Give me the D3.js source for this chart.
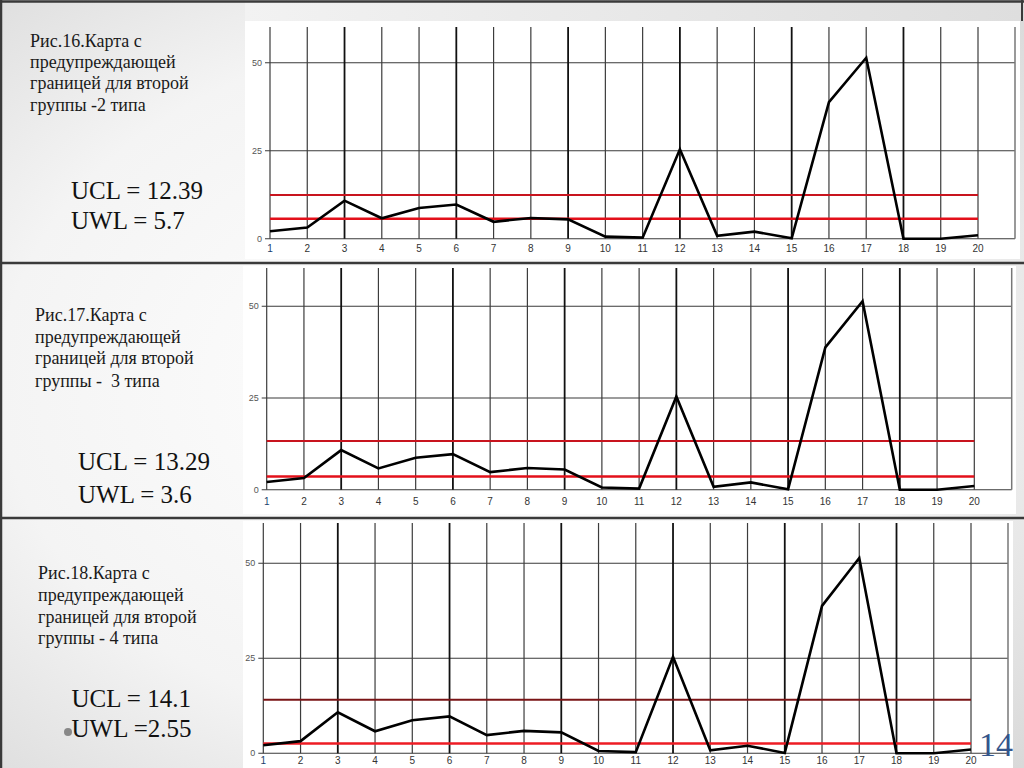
<!DOCTYPE html>
<html>
<head>
<meta charset="utf-8">
<script src="https://cdn.jsdelivr.net/npm/d3@7"></script>
<style>
  html, body { margin: 0; padding: 0; background: #fff; }
  svg { display: block; }
</style>
</head>
<body>
<svg id="slide" width="1024" height="768"></svg>
<script>
// ---- Data ----
const sampleNumbers = [1, 2, 3, 4, 5, 6, 7, 8, 9, 10, 11, 12, 13, 14, 15, 16, 17, 18, 19, 20];
const defectValues = [2.1, 3.2, 10.8, 5.8, 8.7, 9.7, 4.8, 5.9, 5.5, 0.6, 0.3, 25.4, 0.8, 2.0, 0.1, 38.8, 51.4, 0, 0, 1.0];
const yTickValues = [0, 25, 50];
const uclValues = [12.39, 13.29, 14.1];
const uwlValues = [5.7, 3.6, 2.55];
const uclLabels = ["UCL = 12.39", "UCL = 13.29", "UCL = 14.1"];
const uwlLabels = ["UWL = 5.7", "UWL = 3.6", "UWL =2.55"];
const captionLines = [
  ["Рис.16.Карта с", "предупреждающей", "границей для второй", "группы -2 типа"],
  ["Рис.17.Карта с", "предупреждающей", "границей для второй", "группы -  3 типа"],
  ["Рис.18.Карта с", "предупреждающей", "границей для второй", "группы - 4 типа"]
];
const pageNumber = "14";

const SERIF = "Liberation Serif";
const SANS = "Liberation Sans";

// ---- Layout ----
const svg = d3.select("#slide");
const defs = svg.append("defs");
const rg = defs.append("radialGradient").attr("id", "bg")
  .attr("cx", "0.45").attr("cy", "0.5").attr("r", "0.75");
rg.append("stop").attr("offset", "0").attr("stop-color", "#ffffff");
rg.append("stop").attr("offset", "0.6").attr("stop-color", "#f4f4f4");
rg.append("stop").attr("offset", "1").attr("stop-color", "#d8d8d8");
const tg = defs.append("linearGradient").attr("id", "topg").attr("x1", 0).attr("x2", 1);
tg.append("stop").attr("offset", "0").attr("stop-color", "#f2f2f2");
tg.append("stop").attr("offset", "1").attr("stop-color", "#dedede");

svg.append("rect").attr("width", 1024).attr("height", 768).attr("fill", "url(#bg)");

const panels = [
  { white: [245, 21, 1020, 259], x1: 270, x20: 978, y0: 238.7, y50: 62.7, gridTop: 27, right: 1015, labelY: 252,
    capX: 30, capY: [47, 68, 89, 111], valX: 71, valY: [199, 229], uclColor: "#c8141e", uwlColor: "#e3101a" },
  { white: [243, 266, 1016, 514], x1: 266.7, x20: 974.3, y0: 489.7, y50: 306.3, gridTop: 268, right: 1011.7, labelY: 505,
    capX: 35, capY: [321, 343, 364, 387], valX: 78, valY: [470, 503], uclColor: "#c8141e", uwlColor: "#e3101a" },
  { white: [243, 521, 1013, 768], x1: 263.3, x20: 971, y0: 753.3, y50: 563.3, gridTop: 523, right: 1008, labelY: 764,
    capX: 38, capY: [579, 601, 623, 644], valX: 71.5, valY: [707, 737], uclColor: "#7a1416", uwlColor: "#ee1c24" }
];

svg.append("rect").attr("x", 245).attr("y", 0).attr("width", 777).attr("height", 21).attr("fill", "url(#topg)");

panels.forEach((p, i) => {
  const g = svg.append("g");
  g.append("rect").attr("x", p.white[0]).attr("y", p.white[1])
    .attr("width", p.white[2] - p.white[0]).attr("height", p.white[3] - p.white[1]).attr("fill", "#ffffff");

  const x = d3.scaleLinear().domain([1, 20]).range([p.x1, p.x20]);
  const y = d3.scaleLinear().domain([0, 50]).range([p.y0, p.y50]);

  g.selectAll(".hg").data(yTickValues).enter().append("line")
    .attr("x1", p.x1 - 5).attr("x2", p.right)
    .attr("y1", d => y(d)).attr("y2", d => y(d))
    .attr("stroke", "#3a3a3a").attr("stroke-width", 1.1);

  g.selectAll(".vg").data(sampleNumbers).enter().append("line")
    .attr("x1", d => x(d)).attr("x2", d => x(d))
    .attr("y1", p.gridTop).attr("y2", p.y0)
    .attr("stroke", (d, k) => (k % 3 === 2 ? "#111" : "#3c3c3c"))
    .attr("stroke-width", (d, k) => (k % 3 === 2 ? 1.8 : 1.2));

  g.append("line").attr("x1", p.right).attr("x2", p.right)
    .attr("y1", p.gridTop).attr("y2", p.y0).attr("stroke", "#777").attr("stroke-width", 1.5);

  g.selectAll(".yl").data(yTickValues).enter().append("text")
    .style("font-family", SANS)
    .attr("x", p.x1 - 8).attr("y", d => y(d) + 3)
    .attr("text-anchor", "end").attr("font-size", 9).attr("fill", "#555").text(d => d);

  g.selectAll(".xl").data(sampleNumbers).enter().append("text")
    .style("font-family", SANS)
    .attr("x", d => x(d)).attr("y", p.labelY)
    .attr("text-anchor", "middle").attr("font-size", 10)
    .attr("fill", (d, k) => (k === 0 ? "#1b3f6e" : "#333")).text(d => d);

  g.append("line").attr("x1", x(1)).attr("x2", x(20))
    .attr("y1", y(uclValues[i])).attr("y2", y(uclValues[i]))
    .attr("stroke", p.uclColor).attr("stroke-width", 2);
  g.append("line").attr("x1", x(1)).attr("x2", x(20))
    .attr("y1", y(uwlValues[i])).attr("y2", y(uwlValues[i]))
    .attr("stroke", p.uwlColor).attr("stroke-width", 2.5);

  const line = d3.line().x((d, k) => x(sampleNumbers[k])).y(d => y(d));
  g.append("path").datum(defectValues).attr("d", line)
    .attr("fill", "none").attr("stroke", "#000").attr("stroke-width", 2.6);

  const cap = g.append("text").style("font-family", SERIF)
    .attr("font-size", 18).attr("fill", "#1a1a1a");
  captionLines[i].forEach((t, k) => {
    cap.append("tspan").attr("x", p.capX).attr("y", p.capY[k]).style("white-space", "pre").text(t);
  });
  g.append("text").style("font-family", SERIF).attr("x", p.valX).attr("y", p.valY[0])
    .attr("font-size", 25).attr("fill", "#111").text(uclLabels[i]);
  g.append("text").style("font-family", SERIF).attr("x", p.valX).attr("y", p.valY[1])
    .attr("font-size", 25).attr("fill", "#111").text(uwlLabels[i]);
});

[[0, 1.5, 1024, 1.5], [0, 263, 1024, 263], [0, 518, 1024, 518], [1, 0, 1, 768]].forEach(s => {
  svg.append("line").attr("x1", s[0]).attr("y1", s[1]).attr("x2", s[2]).attr("y2", s[3])
    .attr("stroke", "#3a3a3a").attr("stroke-width", 2.5);
});
svg.append("line").attr("x1", 1022).attr("y1", 0).attr("x2", 1022).attr("y2", 21)
  .attr("stroke", "#3a3a3a").attr("stroke-width", 2);

svg.append("circle").attr("cx", 68).attr("cy", 732).attr("r", 4).attr("fill", "#888");

svg.append("text").style("font-family", SERIF).attr("x", 1013).attr("y", 756).attr("text-anchor", "end")
  .attr("font-size", 34).attr("fill", "#34558b").text(pageNumber);
</script>
</body>
</html>
